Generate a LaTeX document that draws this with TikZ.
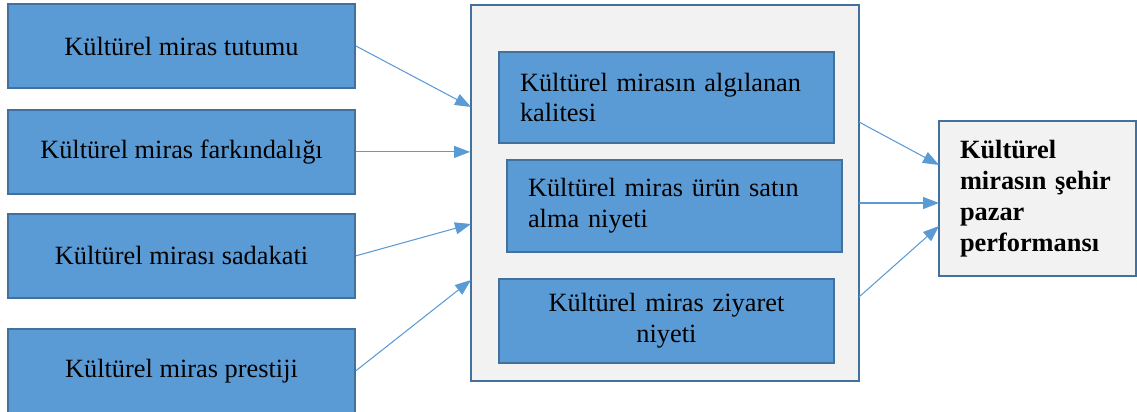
\documentclass[tikz,border=0pt]{standalone}
\usepackage{fontspec}
\setmainfont{Liberation Serif}
\usetikzlibrary{arrows.meta, positioning}
\definecolor{boxblue}{HTML}{5B9BD5}
\definecolor{boxedge}{HTML}{41719C}
\definecolor{panelgray}{HTML}{F2F2F2}

\begin{document}
\begin{tikzpicture}[
    x=0.02cm, y=-0.02cm,
    factor/.style={
      rectangle,
      draw=boxedge,
      line width=1.1pt,
      fill=boxblue,
      align=center,
      inner sep=0pt,
      minimum width=6.94cm,
      minimum height=1.68cm,
      font=\fontsize{15}{17.6}\selectfont
    },
    inner/.style={
      factor,
      minimum width=6.7cm,
      minimum height=1.82cm,
      text width=5.86cm,
      align=left
    },
    panel/.style={
      rectangle,
      draw=boxedge,
      line width=1.1pt,
      fill=panelgray,
      inner sep=0pt
    },
    link/.style={-{Triangle[length=0.32cm, width=0.24cm]}, line width=0.6pt, draw=boxblue}
  ]
    \useasboundingbox (0,0) rectangle (1137,412);

    % left column
    \node[factor] (tutum) at (181.5,46) {Kültürel miras tutumu};
    \node[factor, below=0.4cm of tutum] (fark) {Kültürel miras farkındalığı};
    \node[factor, below=0.36cm of fark] (sadakat) {Kültürel mirası sadakati};
    \node[factor, below=0.58cm of sadakat] (prestij) {Kültürel miras prestiji};

    % middle panel
    \node[panel, minimum width=7.76cm, minimum height=7.52cm] (panel) at (665,193) {};
    \node[inner] (kalite) at (666.5,97.5) {Kültürel mirasın algılanan\\kalitesi};
    \node[inner, minimum height=1.84cm] (satin) at (674.5,206) {Kültürel miras ürün satın\\alma niyeti};
    \node[inner, minimum height=1.68cm, align=center] (ziyaret) at (666.5,321) {Kültürel miras ziyaret\\niyeti};

    % result
    \node[panel, minimum width=3.94cm, minimum height=3.1cm, text width=3.1cm, align=left,
      font=\fontsize{15}{17.6}\selectfont\bfseries] (sonuc) at (1037.5,198.5)
      {Kültürel\\mirasın şehir\\pazar\\performansı};

    \coordinate (pin1) at (471,107);
    \coordinate (pin2) at (fark.east -| panel.west);
    \coordinate (pin3) at (471,224);
    \coordinate (pin4) at (471,280);
    \coordinate (pout1) at (859,122);
    \coordinate (pout2) at (859,203);
    \coordinate (pout3) at (859,297);
    \coordinate (sin1) at (939,165);
    \coordinate (sin2) at (939,203);
    \coordinate (sin3) at (939,226);

    \draw[link] (tutum.east) -- (pin1);
    \draw[link] (fark.east) -- (pin2);
    \draw[link] (sadakat.east) -- (pin3);
    \draw[link] (prestij.east) -- (pin4);

    \draw[link] (pout1) -- (sin1);
    \draw[link] (pout2) -- (sin2);
    \draw[link] (pout3) -- (sin3);
  \end{tikzpicture}
\end{document}
